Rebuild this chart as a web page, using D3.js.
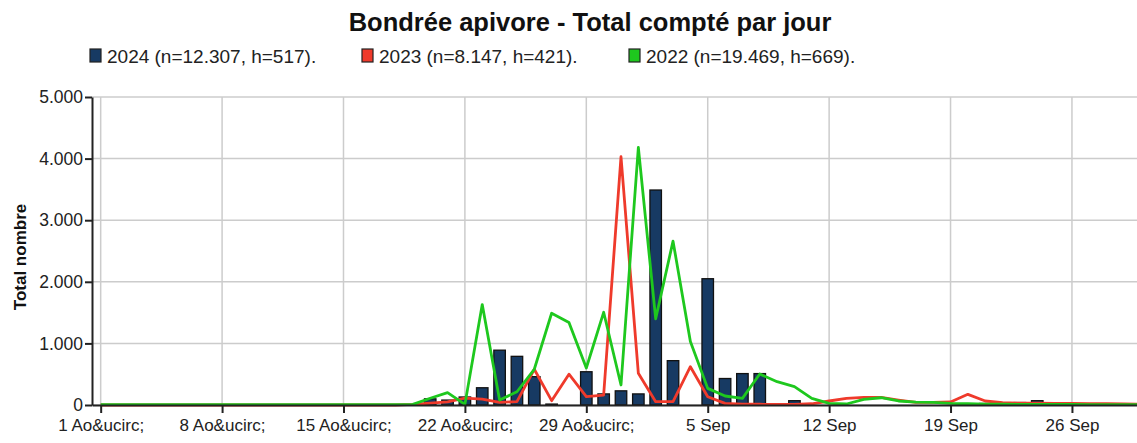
<!DOCTYPE html>
<html>
<head>
<meta charset="utf-8">
<script src="https://cdn.jsdelivr.net/npm/d3@7"></script>
<style>
  body { margin: 0; background: #fff; }
  text { font-family: "Liberation Sans", Arial, sans-serif; }
</style>
</head>
<body>
<div id="container"></div>
<script>
let w = 1137;
let h = 443;

// DATA  (day 0 = 1 Aug ... day 60 = 30 Sep)
let tickDays = [0, 7, 14, 21, 28, 35, 42, 49, 56];
let tickLabels = ["1 Ao&ucirc;", "8 Ao&ucirc;", "15 Ao&ucirc;", "22 Ao&ucirc;", "29 Ao&ucirc;",
                  "5 Sep", "12 Sep", "19 Sep", "26 Sep"];
let yTicks = [0, 1000, 2000, 3000, 4000, 5000];

let counts2024 = [0,0,0,0,0,0,0,0,0,0, 0,0,0,0,0,0,0,0,0,100,
                  80,130,280,890,790,460,15,0,540,180,
                  230,180,3490,720,0,2050,430,510,510,0,
                  70,0,0,0,0,0,0,0,0,0,
                  0,25,0,40,70,0,0,0,0,0,0];
let counts2023 = [0,0,0,0,0,0,0,0,0,0, 0,0,0,0,0,0,0,0,10,30,
                  50,110,97,44,54,580,70,500,135,162,
                  4030,514,54,54,622,135,27,15,12,10,
                  10,20,65,108,125,125,81,43,42,49,
                  173,65,38,30,30,27,25,22,20,18,15];
let counts2022 = [5,5,5,5,5,5,5,5,5,5, 5,5,5,5,5,5,5,5,10,110,
                  200,10,1630,80,215,580,1490,1340,600,1505,
                  325,4180,1400,2660,1030,270,146,108,503,378,
                  297,108,27,16,92,118,65,48,43,28,
                  20,15,12,10,10,8,8,6,5,5,5];

let seriesNames = ["2024 (n=12.307, h=517).", "2023 (n=8.147, h=421).", "2022 (n=19.469, h=669)."];
let seriesColors = ["#173a63", "#ef3a2b", "#1ec81e"];

// SVG
let viz = d3.select("#container").append("svg")
    .attr("width", w)
    .attr("height", h)
    .style("display", "block")
;

let xScale = d3.scaleLinear().domain([-0.5, 60.5]).range([92, 1150]);
let yScale = d3.scaleLinear().domain([0, 5000]).range([405, 97]);

// GRID
viz.append("g").selectAll("line").data(yTicks).enter()
  .append("line")
    .attr("x1", 92).attr("x2", w)
    .attr("y1", d => yScale(d)).attr("y2", d => yScale(d))
    .attr("stroke", "#cccccc").attr("stroke-width", 1.5)
;
viz.append("g").selectAll("line").data(tickDays).enter()
  .append("line")
    .attr("x1", d => xScale(d)).attr("x2", d => xScale(d))
    .attr("y1", yScale(5000)).attr("y2", yScale(0))
    .attr("stroke", "#cccccc").attr("stroke-width", 1.5)
;

// BARS 2024
let barW = 11.5;
let barData = counts2024.map((v, i) => ({day: i, value: v})).filter(d => d.value > 0);
viz.append("g").selectAll("rect").data(barData).enter()
  .append("rect")
    .attr("x", d => xScale(d.day) - barW / 2)
    .attr("y", d => yScale(d.value))
    .attr("width", barW)
    .attr("height", d => yScale(0) - yScale(d.value))
    .attr("fill", seriesColors[0])
    .attr("stroke", "#111")
    .attr("stroke-width", 1.3)
;

// LINES
let lineMaker = d3.line()
    .x((d, i) => xScale(i))
    .y(d => yScale(d));

viz.append("path")
    .attr("d", lineMaker(counts2023))
    .attr("fill", "none")
    .attr("stroke", seriesColors[1])
    .attr("stroke-width", 2.8)
    .attr("stroke-linejoin", "round")
;
viz.append("path")
    .attr("d", lineMaker(counts2022))
    .attr("fill", "none")
    .attr("stroke", seriesColors[2])
    .attr("stroke-width", 2.8)
    .attr("stroke-linejoin", "round")
;

// AXES
let xAxis = d3.axisBottom(xScale)
    .tickValues(tickDays)
    .tickFormat((d, i) => tickLabels[i])
    .tickSize(8)
    .tickSizeOuter(0);
let xg = viz.append("g")
    .attr("transform", "translate(0," + yScale(0) + ")")
    .call(xAxis);
xg.select(".domain").attr("stroke", "#222").attr("stroke-width", 2);
xg.selectAll(".tick line").attr("stroke", "#222").attr("stroke-width", 2);
xg.selectAll(".tick text")
    .attr("y", 14)
    .attr("fill", "#222")
    .style("font-size", "17px")
    .style("font-family", "Liberation Sans, Arial, sans-serif");

let yAxis = d3.axisLeft(yScale)
    .tickValues(yTicks)
    .tickFormat(d => d == 0 ? "0" : d3.format(",")(d).replace(",", "."))
    .tickSize(7)
    .tickSizeOuter(0);
let yg = viz.append("g")
    .attr("transform", "translate(92,0)")
    .call(yAxis);
yg.select(".domain").attr("stroke", "#222").attr("stroke-width", 2);
yg.selectAll(".tick line").attr("stroke", "#222").attr("stroke-width", 2);
yg.selectAll(".tick text")
    .attr("x", -9)
    .attr("fill", "#222")
    .style("font-size", "17.5px")
    .style("font-family", "Liberation Sans, Arial, sans-serif");

// Y TITLE
viz.append("text")
    .attr("transform", "translate(26,257) rotate(-90)")
    .attr("text-anchor", "middle")
    .style("font-size", "17px")
    .style("font-weight", "bold")
    .attr("fill", "#111")
    .text("Total nombre")
;

// TITLE
viz.append("text")
    .attr("x", 590)
    .attr("y", 31)
    .attr("text-anchor", "middle")
    .style("font-size", "25.5px")
    .style("font-weight", "bold")
    .attr("fill", "#111")
    .text("Bondrée apivore - Total compté par jour")
;

// LEGEND
let legendX = [90, 362, 629];
let legend = viz.append("g").selectAll("g").data(seriesNames).enter()
  .append("g")
    .attr("transform", (d, i) => "translate(" + legendX[i] + ",49)");
legend.append("rect")
    .attr("width", 11).attr("height", 13)
    .attr("fill", (d, i) => seriesColors[i])
    .attr("stroke", "#222").attr("stroke-width", 1.2);
legend.append("text")
    .attr("x", 17).attr("y", 13.5)
    .style("font-size", "19px")
    .attr("fill", "#222")
    .text(d => d);
</script>
</body>
</html>
